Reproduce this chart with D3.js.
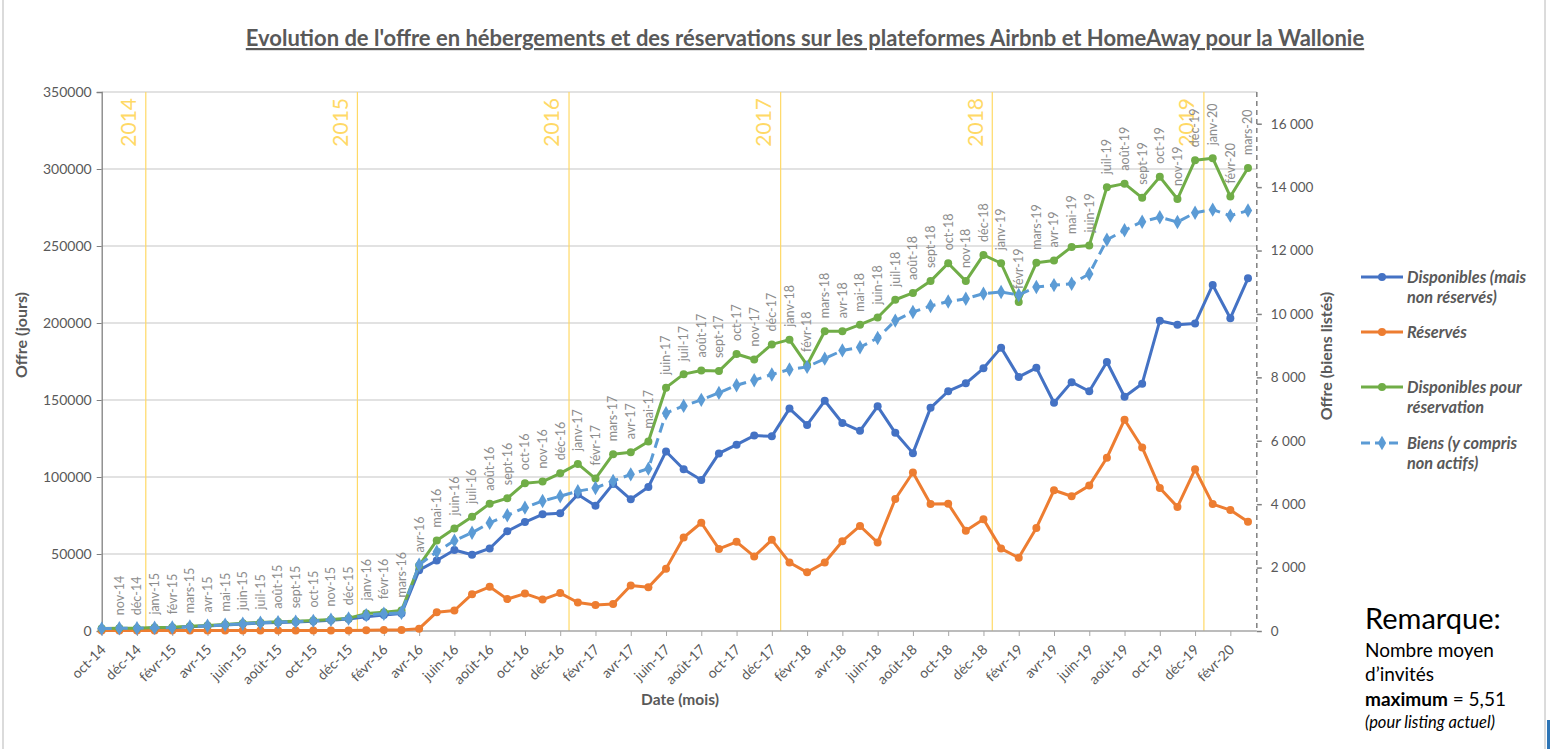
<!DOCTYPE html>
<html>
<head>
<meta charset="utf-8">
<script src="https://cdn.jsdelivr.net/npm/d3@7"></script>
<style>
  body { margin: 0; background: #fff; }
  svg { display: block; font-family: Lato, "Open Sans", sans-serif; }
</style>
</head>
<body>
<script>
// month labels, oct-14 -> mars-20
var months = ["oct-14","nov-14","déc-14","janv-15","févr-15","mars-15","avr-15","mai-15","juin-15","juil-15","août-15","sept-15",
  "oct-15","nov-15","déc-15","janv-16","févr-16","mars-16","avr-16","mai-16","juin-16","juil-16","août-16","sept-16",
  "oct-16","nov-16","déc-16","janv-17","févr-17","mars-17","avr-17","mai-17","juin-17","juil-17","août-17","sept-17",
  "oct-17","nov-17","déc-17","janv-18","févr-18","mars-18","avr-18","mai-18","juin-18","juil-18","août-18","sept-18",
  "oct-18","nov-18","déc-18","janv-19","févr-19","mars-19","avr-19","mai-19","juin-19","juil-19","août-19","sept-19",
  "oct-19","nov-19","déc-19","janv-20","févr-20","mars-20"];

// left axis (jours)
var disponibles = [1300,1500,1500,1900,2100,2800,3300,3900,4600,5200,5600,5900,
  6300,7000,7800,9300,10400,11300,39500,45800,52600,49500,53600,64800,
  70700,75800,76500,88600,81300,95500,85500,93500,116600,105000,98000,115300,
  121000,126900,126400,144400,133800,149500,135100,130000,145900,128700,115500,144900,
  155700,160800,170600,184000,165000,170900,148200,161600,155700,174700,152100,160600,
  201500,198900,199700,224700,203100,229000];

var reserves = [300,300,300,300,300,300,400,400,400,400,400,400,
  400,400,400,500,600,700,1500,12200,13300,23900,28700,20700,
  24300,20400,24600,18500,16900,17500,29600,28400,40500,60700,70300,53300,
  57900,48400,59200,44500,38100,44500,58300,68200,57400,85700,102900,82400,
  82600,65100,72600,53500,47600,66900,91400,87500,94400,112500,137200,119200,
  92900,80600,105000,82400,78500,71000];

var dispoReservation = [1600,1800,1800,2200,2400,3100,3600,4300,5000,5600,6000,6300,
  6800,7500,8300,11300,12200,13300,42500,58800,66500,74200,82700,86200,
  96000,97000,102400,108500,99000,114800,116100,123000,158000,166800,169100,168800,
  179900,176300,186100,189200,172700,194600,194600,198900,203600,215100,219500,227200,
  238800,227200,244200,238800,213600,239100,240600,249400,250400,288200,290500,281300,
  294900,280500,305700,307000,282100,300600];

// right axis (biens listés)
var biens = [75,85,85,100,110,140,165,195,230,260,280,295,
  320,355,395,500,545,575,2090,2500,2850,3100,3410,3650,
  3890,4100,4250,4410,4510,4730,4940,5120,6870,7100,7290,7510,
  7750,7910,8090,8250,8330,8590,8850,8950,9240,9790,10060,10250,
  10390,10480,10640,10690,10600,10850,10910,10950,11260,12340,12640,12910,
  13050,12900,13190,13290,13100,13260];

var leftTicks = [0,50000,100000,150000,200000,250000,300000,350000];
var rightTicks = [0,2000,4000,6000,8000,10000,12000,14000,16000];

var series = [
  {key: "disponibles", values: disponibles, color: "#4472C4", axis: "L", dash: null, label: ["Disponibles (mais", "non réservés)"]},
  {key: "reserves", values: reserves, color: "#ED7D31", axis: "L", dash: null, label: ["Réservés"]},
  {key: "dispo", values: dispoReservation, color: "#70AD47", axis: "L", dash: null, label: ["Disponibles pour", "réservation"]},
  {key: "biens", values: biens, color: "#5B9BD5", axis: "R", dash: "10,6", label: ["Biens (y compris", "non actifs)"]}
];

var w = 1550, h = 749;
var padL = 101.7, padR = 1256.8, padT = 92, padB = 631;

var svg = d3.select("body").append("svg")
  .attr("width", w)
  .attr("height", h);

// outer frame
svg.append("rect")
  .attr("x", 3).attr("y", -2).attr("width", 1542).attr("height", h + 4)
  .attr("fill", "none").attr("stroke", "#d0d0d0").attr("stroke-width", 1.5);
svg.append("rect")
  .attr("x", 1547).attr("y", 720).attr("width", 3).attr("height", 29)
  .attr("fill", "#2e75b6");

var x = d3.scaleLinear().domain([0, months.length - 0.5]).range([padL, padR]);
var yL = d3.scaleLinear().domain([0, 350000]).range([padB, padT]);
var yR = d3.scaleLinear().domain([0, 17000]).range([padB, padT]);

// title
svg.append("text")
  .attr("x", 805).attr("y", 46)
  .attr("text-anchor", "middle")
  .attr("font-size", 22).attr("font-weight", "bold")
  .attr("fill", "#595959")
  .style("text-decoration", "underline")
  .text("Evolution de l'offre en hébergements et des réservations sur les plateformes Airbnb et HomeAway pour la Wallonie");

// gridlines
svg.append("g").selectAll("line")
  .data(leftTicks.slice(1))
  .enter().append("line")
  .attr("x1", padL).attr("x2", padR)
  .attr("y1", d => yL(d)).attr("y2", d => yL(d))
  .attr("stroke", "#d9d9d9").attr("stroke-width", 1.3);

// year separators
var yearBreaks = [];
months.forEach(function(m, i) {
  if (m.indexOf("janv") === 0) yearBreaks.push({pos: i - 0.5, label: "20" + months[i - 1].slice(-2)});
});
var yg = svg.append("g");
yg.selectAll("line").data(yearBreaks).enter().append("line")
  .attr("x1", d => x(d.pos)).attr("x2", d => x(d.pos))
  .attr("y1", padT).attr("y2", padB)
  .attr("stroke", "#FFD966").attr("stroke-width", 1.2);
yg.selectAll("text").data(yearBreaks).enter().append("text")
  .attr("transform", d => "translate(" + (x(d.pos) - 17) + "," + 98 + ") rotate(-90)")
  .attr("text-anchor", "end")
  .attr("dy", "0.35em")
  .attr("font-size", 21)
  .attr("fill", "#FFD966")
  .text(d => d.label);

// left axis
var axisL = d3.axisLeft(yL).tickValues(leftTicks).tickFormat(d3.format("d")).tickSize(5).tickPadding(5);
var gL = svg.append("g").attr("transform", "translate(" + padL + ",0)").call(axisL);
gL.select(".domain").attr("stroke", "#808080").attr("stroke-width", 1.3);
gL.selectAll(".tick line").attr("stroke", "#808080");
gL.selectAll("text").attr("font-size", 14).attr("fill", "#595959").attr("font-family", "Lato, sans-serif");

// right axis
var fr = d3.formatLocale({decimal: ",", thousands: "\u00a0", grouping: [3], currency: ["", "€"]}).format(",d");
var axisR = d3.axisRight(yR).tickValues(rightTicks).tickFormat(fr).tickSize(5).tickPadding(9);
var gR = svg.append("g").attr("transform", "translate(" + padR + ",0)").call(axisR);
gR.select(".domain").attr("stroke", "#808080").attr("stroke-width", 1.5).attr("stroke-dasharray", "5,4")
  .attr("d", "M0," + padT + "V" + padB);
gR.selectAll(".tick line").attr("stroke", "#808080").attr("stroke-width", 1.5);
gR.selectAll("text").attr("font-size", 13.5).attr("fill", "#595959").attr("font-family", "Lato, sans-serif");

// x axis
var xTicks = d3.range(0, months.length, 2);
var axisX = d3.axisBottom(x).tickValues(xTicks).tickFormat(d => months[d]).tickSize(5).tickSizeOuter(0);
var gX = svg.append("g").attr("transform", "translate(0," + padB + ")").call(axisX);
gX.select(".domain").attr("stroke", "#a6a6a6").attr("stroke-width", 1.3).attr("d", "M" + padL + ",0H" + padR);
gX.selectAll(".tick line").attr("stroke", "#a6a6a6");
gX.selectAll("text")
  .attr("font-size", 14).attr("fill", "#595959").attr("font-family", "Lato, sans-serif")
  .attr("text-anchor", "end")
  .attr("transform", "translate(1,16) rotate(-45)")
  .attr("dy", "0.35em").attr("y", 0).attr("x", 0);

// axis titles
svg.append("text")
  .attr("transform", "translate(27,335) rotate(-90)")
  .attr("text-anchor", "middle")
  .attr("font-size", 16).attr("font-weight", "bold").attr("fill", "#595959")
  .text("Offre (jours)");
svg.append("text")
  .attr("transform", "translate(1332,356) rotate(-90)")
  .attr("text-anchor", "middle")
  .attr("font-size", 16).attr("font-weight", "bold").attr("fill", "#595959")
  .text("Offre (biens listés)");
svg.append("text")
  .attr("x", 680).attr("y", 705)
  .attr("text-anchor", "middle")
  .attr("font-size", 15.5).attr("font-weight", "bold").attr("fill", "#595959")
  .text("Date (mois)");

// lines
var diamond = d3.symbol().type(d3.symbolDiamond).size(60);
series.forEach(function(s) {
  var ys = s.axis === "L" ? yL : yR;
  var line = d3.line().x((d, i) => x(i)).y(d => ys(d));
  var g = svg.append("g");
  g.append("path")
    .datum(s.values)
    .attr("d", line)
    .attr("fill", "none")
    .attr("stroke", s.color)
    .attr("stroke-width", 3)
    .attr("stroke-linejoin", "round")
    .attr("stroke-dasharray", s.dash);
  if (s.dash) {
    g.selectAll("path.pt").data(s.values).enter().append("path")
      .attr("class", "pt")
      .attr("d", diamond)
      .attr("transform", (d, i) => "translate(" + x(i) + "," + ys(d) + ")")
      .attr("fill", s.color);
  } else {
    g.selectAll("circle").data(s.values).enter().append("circle")
      .attr("cx", (d, i) => x(i))
      .attr("cy", d => ys(d))
      .attr("r", 4)
      .attr("fill", s.color);
  }
});

// month labels above the green series
svg.append("g").selectAll("text")
  .data(dispoReservation.slice(1))
  .enter().append("text")
  .attr("transform", (d, i) => "translate(" + x(i + 1) + "," + (yL(d) - 13) + ") rotate(-90)")
  .attr("dy", "0.35em")
  .attr("font-size", 12.5)
  .attr("fill", "#8c8c8c")
  .text((d, i) => months[i + 1]);

// legend
var lg = svg.append("g");
var legendY = [277, 332, 387, 443];
series.forEach(function(s, k) {
  var yy = legendY[k];
  lg.append("line")
    .attr("x1", 1361).attr("x2", 1403).attr("y1", yy).attr("y2", yy)
    .attr("stroke", s.color).attr("stroke-width", 3)
    .attr("stroke-dasharray", s.dash ? "9,5" : null);
  if (s.dash) {
    lg.append("path").attr("d", diamond).attr("transform", "translate(1382," + yy + ")").attr("fill", s.color);
  } else {
    lg.append("circle").attr("cx", 1382).attr("cy", yy).attr("r", 4).attr("fill", s.color);
  }
  s.label.forEach(function(t, j) {
    lg.append("text")
      .attr("x", 1407).attr("y", yy + j * 20.5)
      .attr("dy", "0.35em")
      .attr("font-size", 16.3).attr("font-weight", "bold").attr("font-style", "italic")
      .attr("fill", "#595959")
      .text(t);
  });
});

// remarque
var rq = svg.append("g").attr("fill", "#000");
rq.append("text").attr("x", 1365).attr("y", 629).attr("font-size", 29).text("Remarque:");
rq.append("text").attr("x", 1365).attr("y", 657).attr("font-size", 19).text("Nombre moyen");
rq.append("text").attr("x", 1365).attr("y", 681).attr("font-size", 19).text("d’invités");
var mx = rq.append("text").attr("x", 1365).attr("y", 706).attr("font-size", 19);
mx.append("tspan").attr("font-weight", "bold").text("maximum");
mx.append("tspan").text(" = 5,51");
rq.append("text").attr("x", 1365).attr("y", 728).attr("font-size", 16.5).attr("font-style", "italic").text("(pour listing actuel)");
</script>
</body>
</html>
